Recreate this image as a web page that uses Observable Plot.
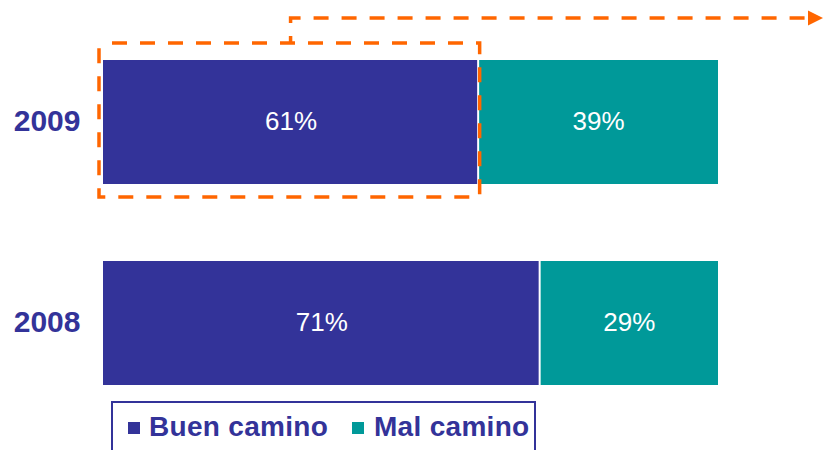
<!DOCTYPE html>
<html>
<head>
<meta charset="utf-8">
<script src="https://cdn.jsdelivr.net/npm/d3@7"></script>
<script src="https://cdn.jsdelivr.net/npm/@observablehq/plot@0.6"></script>
<style>
  body { margin: 0; background: #fff; font-family: "Liberation Sans", Arial, sans-serif; }
  #wrap { position: relative; width: 823px; height: 450px; overflow: hidden; }
  #wrap svg { position: absolute; left: 0; top: 0; }
  #legend { position: absolute; left: 111px; top: 401px; width: 421px; height: 80px; border: 2px solid #333399; }
  .sw { position: absolute; width: 12px; height: 12px; }
  .lt { position: absolute; font-size: 28px; line-height: 28px; font-weight: bold; color: #333399; white-space: nowrap; letter-spacing: 0.3px; }
</style>
</head>
<body>
<div id="wrap"></div>
<script>
// ---- data ----
const years = ["2009", "2008"];
const seriesNames = ["Buen camino", "Mal camino"];
const buen = [61, 71];
const mal = [39, 29];
const seriesColors = ["#333399", "#009999"];
const highlightColor = "#FF6600";

const pct = v => v + "%";

const plot = Plot.plot({
  width: 823,
  height: 400,
  marginLeft: 103,
  marginRight: 105,
  marginTop: 17,
  marginBottom: 14,
  x: { domain: [0, 100], axis: null },
  y: { domain: years, range: [59, 386], paddingInner: 0.381, paddingOuter: 0, axis: null },
  style: { fontFamily: "Liberation Sans, Arial, sans-serif", background: "transparent" },
  marks: [
    Plot.barX(years, { y: d => d, x1: 0, x2: (d, i) => buen[i], fill: seriesColors[0], insetRight: 1 }),
    Plot.barX(years, { y: d => d, x1: (d, i) => buen[i], x2: (d, i) => buen[i] + mal[i], fill: seriesColors[1], insetLeft: 1 }),
    Plot.text(years, { y: d => d, x: (d, i) => buen[i] / 2, text: (d, i) => pct(buen[i]), fill: "white", fontSize: 26, dy: -1 }),
    Plot.text(years, { y: d => d, x: (d, i) => buen[i] + mal[i] / 2, text: (d, i) => pct(mal[i]), fill: "white", fontSize: 26, dy: -1 }),
    Plot.text(years, { y: d => d, x: 0, text: d => d, textAnchor: "end", dx: -23, dy: -1, fontSize: 30, fontWeight: "bold", fill: "#333399" }),
    // highlight box around 2009 "Buen camino"
    Plot.barX([years[0]], {
      y: d => d, x1: 0, x2: buen[0], fill: "none", stroke: highlightColor, strokeWidth: 3.5,
      strokeDasharray: "15,13", strokeDashoffset: 15,
      insetLeft: -4, insetRight: -1.5, insetTop: -17, insetBottom: -13
    })
  ]
});

// connector arrow from the highlight box, positioned with the plot's scales
const xs = plot.scale("x");
const ys = plot.scale("y");
const cx = xs.apply(buen[0] / 2);
const boxTop = ys.apply(years[0]) - 17;
const arrowY = 18;
const arrowEnd = 808;
const svg = d3.select(plot);
svg.append("path")
  .attr("d", `M${cx},${boxTop}V${arrowY}H${arrowEnd}`)
  .attr("fill", "none")
  .attr("stroke", highlightColor)
  .attr("stroke-width", 3.5)
  .attr("stroke-dasharray", "15,13")
  .attr("stroke-dashoffset", 8);
svg.append("path")
  .attr("d", `M${arrowEnd},${arrowY - 7.5}L${arrowEnd + 15},${arrowY}L${arrowEnd},${arrowY + 7.5}Z`)
  .attr("fill", highlightColor);

const wrap = document.getElementById("wrap");
wrap.appendChild(plot);

// legend
const legend = document.createElement("div");
legend.id = "legend";
const legendPos = [{ sq: 15, tx: 36 }, { sq: 239, tx: 261 }];
seriesNames.forEach((name, i) => {
  const sw = document.createElement("div");
  sw.className = "sw";
  sw.style.background = seriesColors[i];
  sw.style.left = legendPos[i].sq + "px";
  sw.style.top = "19px";
  legend.appendChild(sw);
  const t = document.createElement("div");
  t.className = "lt";
  t.textContent = name;
  t.style.left = legendPos[i].tx + "px";
  t.style.top = "10px";
  legend.appendChild(t);
});
wrap.appendChild(legend);
</script>
</body>
</html>
